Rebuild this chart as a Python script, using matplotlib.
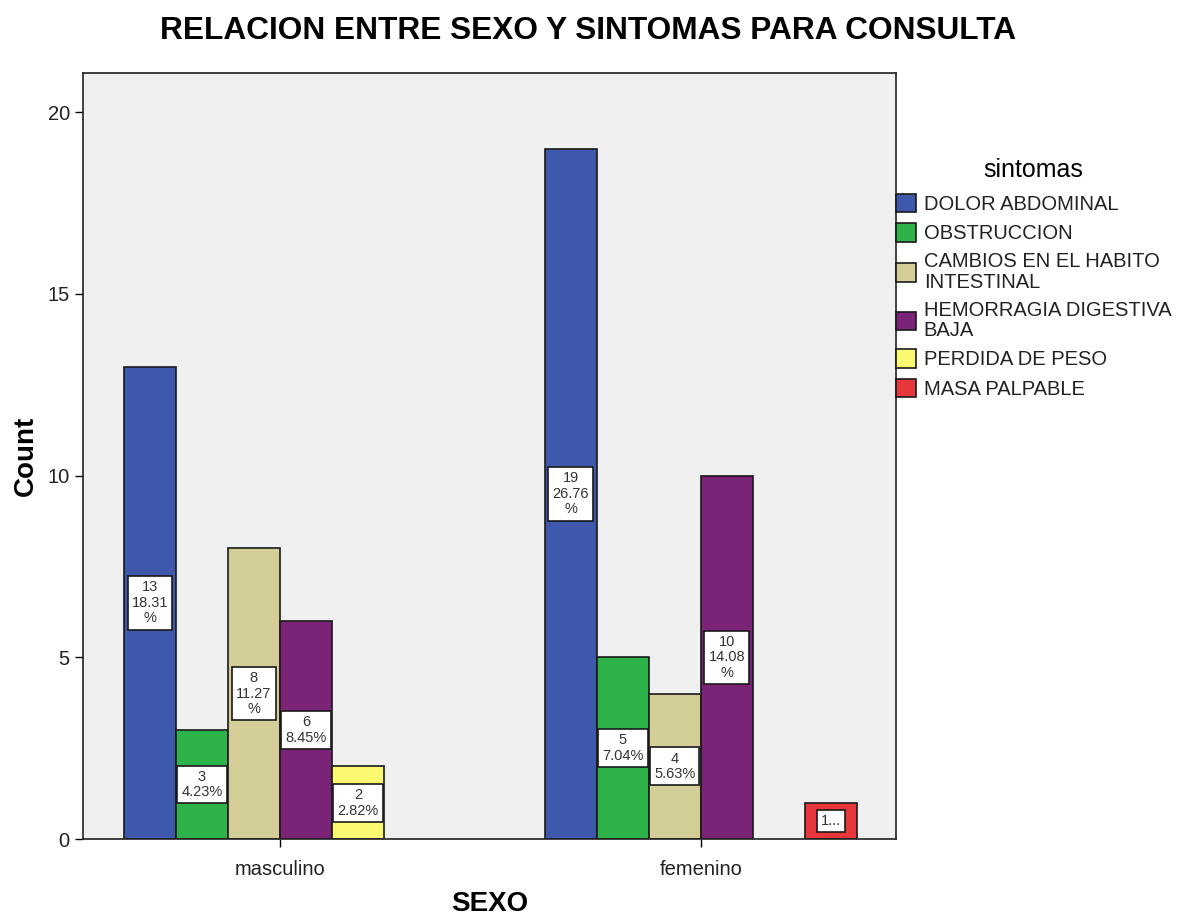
import matplotlib
matplotlib.use("Agg")
import matplotlib.pyplot as plt
from matplotlib.patches import Patch
import numpy as np

plt.rcParams['font.family'] = ['Liberation Sans', 'DejaVu Sans']

sexos = ["masculino", "femenino"]
sintomas = ["DOLOR ABDOMINAL", "OBSTRUCCION", "CAMBIOS EN EL HABITO\nINTESTINAL",
            "HEMORRAGIA DIGESTIVA\nBAJA", "PERDIDA DE PESO", "MASA PALPABLE"]
colores = ["#3E58AC", "#2DB34A", "#D3CE97", "#7B2477", "#FBF872", "#E8373C"]
# counts per sintoma: [masculino, femenino]
counts = [
    [13, 19],
    [3, 5],
    [8, 4],
    [6, 10],
    [2, 0],
    [0, 1],
]
total = sum(sum(c) for c in counts)

fig = plt.figure(figsize=(11.8, 9.16), dpi=100)
ax = fig.add_axes([0.0703, 0.084, 0.6887, 0.836])
ax.set_facecolor("#F0F0F0")

width = 0.1235
x = np.arange(len(sexos))
n = len(sintomas)
for i, (name, col) in enumerate(zip(sintomas, colores)):
    pos = x + (i - (n - 1) / 2) * width
    vals = counts[i]
    for p, v in zip(pos, vals):
        if v == 0:
            continue
        ax.bar(p, v, width=width, color=col, edgecolor="#1a1a1a", linewidth=1.2, zorder=2)
        pct = f"{v / total * 100:.2f}"
        if v == 1:
            lab = "1..."
        elif len(pct) > 4:
            lab = f"{v}\n{pct}\n%"
        else:
            lab = f"{v}\n{pct}%"
        ax.text(p, v / 2, lab, ha="center", va="center", fontsize=10.5, color="#333333",
                linespacing=1.15, zorder=3,
                bbox=dict(boxstyle="square,pad=0.28", facecolor="white",
                          edgecolor="#1a1a1a", linewidth=1.2))

ax.set_xlim(-0.468, 1.463)
ax.set_ylim(0, 21.07)
ax.set_xticks(x)
ax.set_xticklabels(sexos, fontsize=14.5, color="#222222")
ax.set_yticks([0, 5, 10, 15, 20])
ax.tick_params(axis="y", labelsize=14.5, length=6, width=1, direction="out", labelcolor="#222222")
ax.tick_params(axis="x", length=6, width=1, direction="out", pad=9)
for s in ax.spines.values():
    s.set_linewidth(1.2)
    s.set_color("#222222")

ax.set_ylabel("Count", fontsize=20, fontweight="bold", labelpad=6)
ax.set_xlabel("SEXO", fontsize=20, fontweight="bold", labelpad=9)
fig.text(0.498, 0.966, "RELACION ENTRE SEXO Y SINTOMAS PARA CONSULTA",
         ha="center", va="center", fontsize=22.8, fontweight="bold")

handles = [Patch(facecolor=c, edgecolor="#1a1a1a", linewidth=1.2) for c in colores]
leg = fig.legend(handles, sintomas, loc="upper left", bbox_to_anchor=(0.759, 0.827),
                 frameon=False, fontsize=14.5, title="sintomas", title_fontsize=18,
                 handlelength=1.0, handleheight=1.05, handletextpad=0.4,
                 labelspacing=0.45, borderaxespad=0, borderpad=0)
leg._legend_box.align = "center"
leg._legend_box.sep = 8
for t in leg.get_texts():
    t.set_linespacing(1.1)
    t.set_color("#222222")

fig.savefig("out.png", dpi=100)
